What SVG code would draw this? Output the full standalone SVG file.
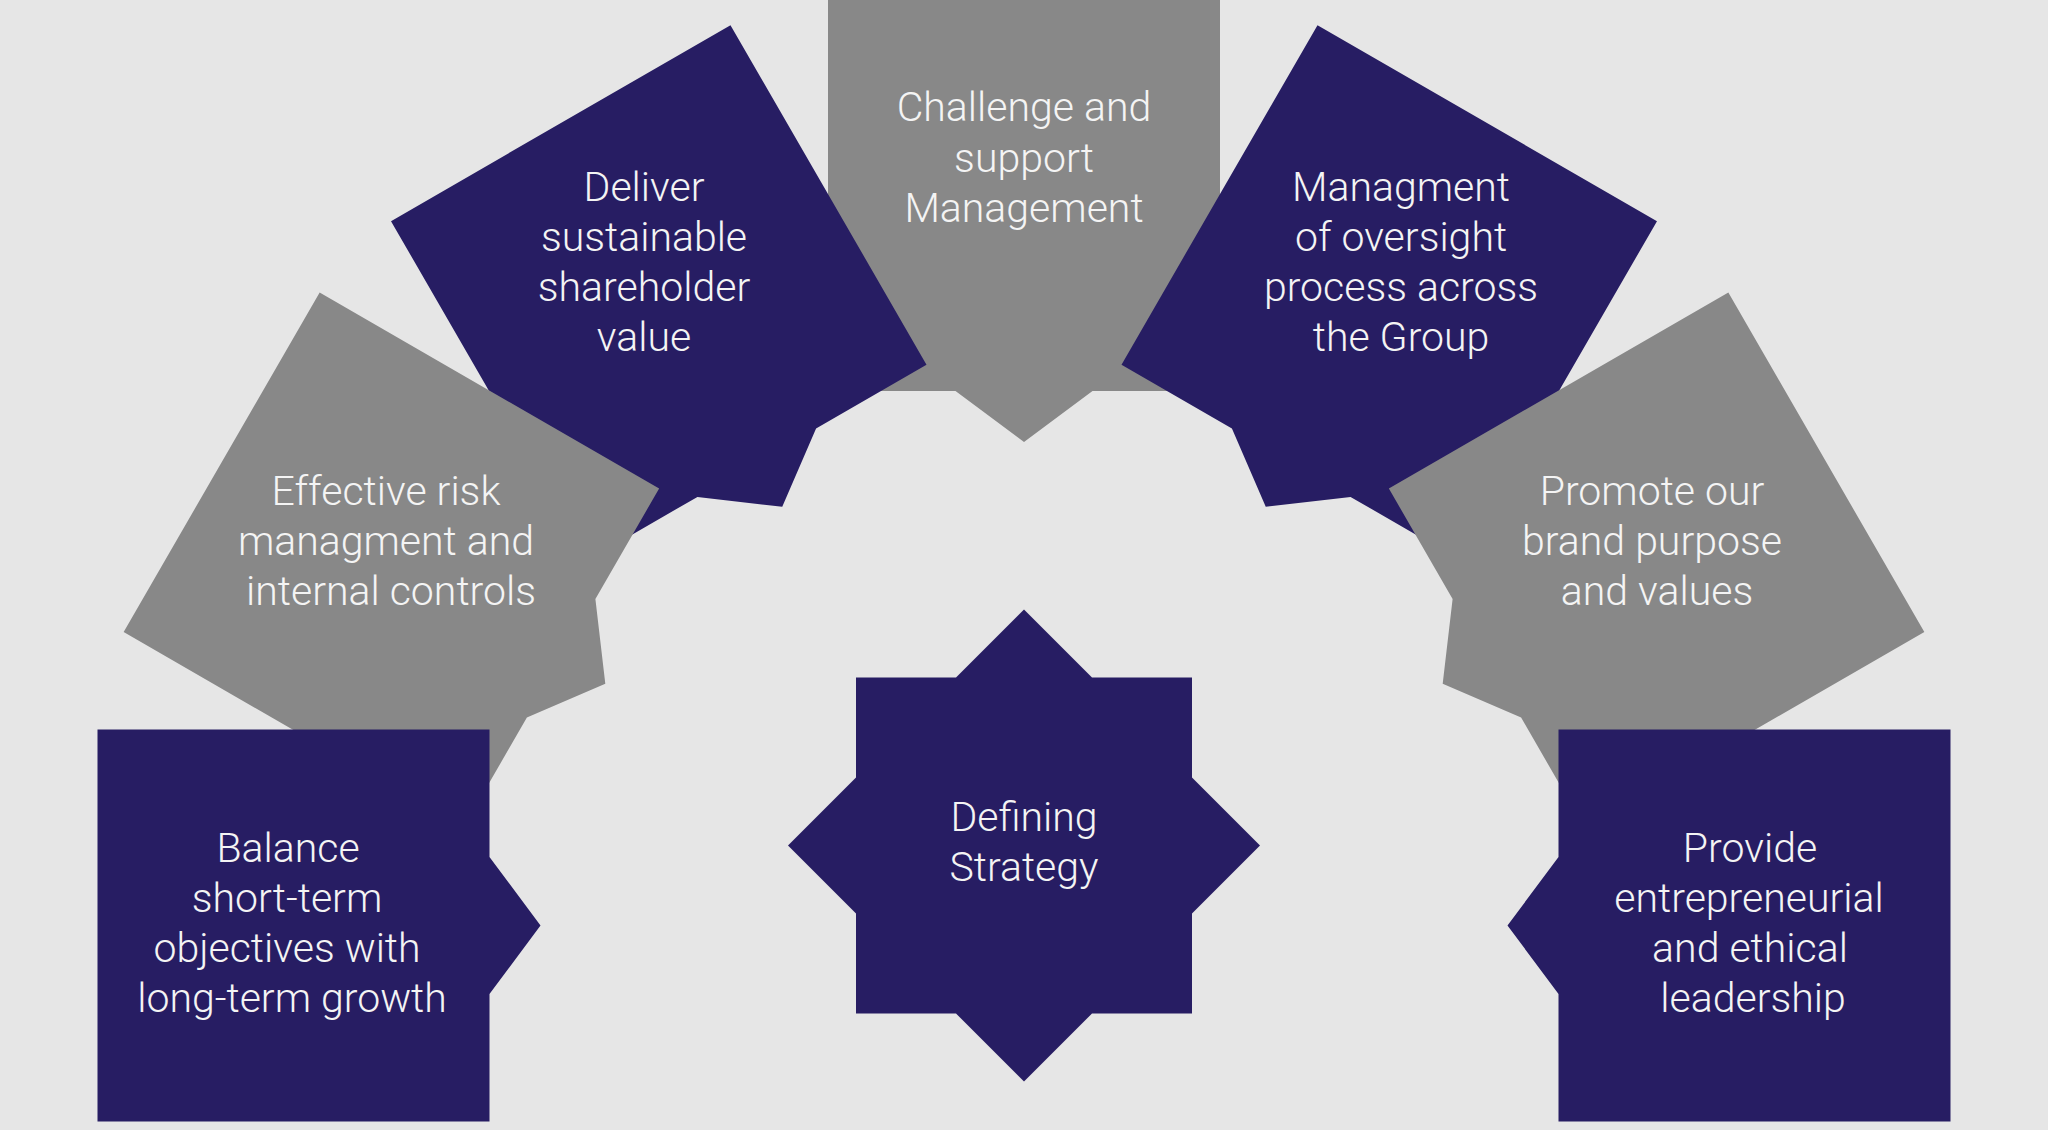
<svg xmlns="http://www.w3.org/2000/svg" width="2048" height="1130" viewBox="0 0 2048 1130">
  <defs>
    <path id="box" d="M-196,-196 H196 V-68.5 L247,0 L196,68.5 V196 H-196 Z"/>
    <style>
      .dark { fill: #271d63; }
      .grey { fill: #888888; }
      .lbl { font-family: Roboto, "Liberation Sans", Arial, sans-serif; font-weight: 300; font-size: 41px; fill: #f4f4f4; text-anchor: middle; }
    </style>
  </defs>
  <rect x="0" y="0" width="2048" height="1130" fill="#e6e6e6"/>
  <g id="connectors"/>

  <g id="node-challenge">
    <use href="#box" class="grey" transform="translate(1024,195) rotate(90)"/>
    <text class="lbl" x="1024" y="121">Challenge and</text>
    <text class="lbl" x="1024" y="171.5">support</text>
    <text class="lbl" x="1024" y="222">Management</text>
  </g>

  <g id="node-deliver">
    <use href="#box" class="dark" transform="translate(658.75,292.9) rotate(60)"/>
    <text class="lbl" x="644" y="200.5">Deliver</text>
    <text class="lbl" x="644" y="250.5">sustainable</text>
    <text class="lbl" x="644" y="300.5">shareholder</text>
    <text class="lbl" x="644" y="351">value</text>
  </g>

  <g id="node-managment">
    <use href="#box" class="dark" transform="translate(1389.25,292.9) rotate(120)"/>
    <text class="lbl" x="1401" y="200.5">Managment</text>
    <text class="lbl" x="1401" y="250.5">of oversight</text>
    <text class="lbl" x="1401" y="300.5">process across</text>
    <text class="lbl" x="1401" y="351">the Group</text>
  </g>

  <g id="node-effective">
    <use href="#box" class="grey" transform="translate(391.4,560.25) rotate(30)"/>
    <text class="lbl" x="386" y="505">Effective risk</text>
    <text class="lbl" x="386" y="555">managment and</text>
    <text class="lbl" x="391" y="605">internal controls</text>
  </g>

  <g id="node-promote">
    <use href="#box" class="grey" transform="translate(1656.6,560.25) rotate(150)"/>
    <text class="lbl" x="1652" y="505">Promote our</text>
    <text class="lbl" x="1652" y="555">brand purpose</text>
    <text class="lbl" x="1657" y="605">and values</text>
  </g>

  <g id="node-balance">
    <use href="#box" class="dark" transform="translate(293.5,925.5)"/>
    <text class="lbl" x="288" y="862">Balance</text>
    <text class="lbl" x="287" y="912">short-term</text>
    <text class="lbl" x="287" y="962">objectives with</text>
    <text class="lbl" x="292" y="1012">long-term growth</text>
  </g>

  <g id="node-provide">
    <use href="#box" class="dark" transform="translate(1754.5,925.5) rotate(180)"/>
    <text class="lbl" x="1750" y="862">Provide</text>
    <text class="lbl" x="1749" y="912">entrepreneurial</text>
    <text class="lbl" x="1750" y="962">and ethical</text>
    <text class="lbl" x="1753" y="1012">leadership</text>
  </g>

  <g id="node-strategy">
    <path class="dark" transform="translate(1024,845.5)" d="M0,-236 L68,-168 H168 V-68 L236,0 L168,68 V168 H68 L0,236 L-68,168 H-168 V68 L-236,0 L-168,-68 V-168 H-68 Z"/>
    <text class="lbl" x="1024" y="831">Defining</text>
    <text class="lbl" x="1024" y="881">Strategy</text>
  </g>
</svg>
